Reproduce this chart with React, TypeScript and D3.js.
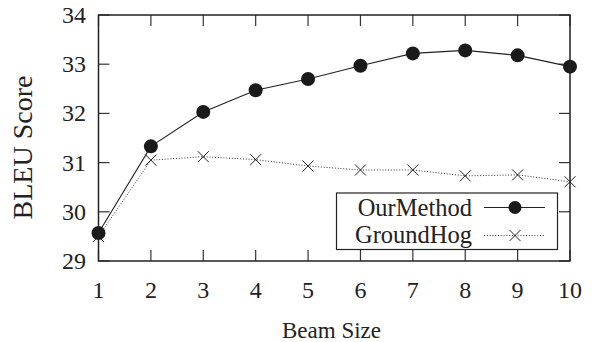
import React from "react";
import * as d3 from "d3";

const beamSizes = [1, 2, 3, 4, 5, 6, 7, 8, 9, 10];
const ourMethod = [29.57, 31.33, 32.03, 32.47, 32.7, 32.97, 33.22, 33.28, 33.18, 32.95];
const groundHog = [29.5, 31.05, 31.12, 31.06, 30.93, 30.85, 30.85, 30.73, 30.75, 30.61];
const yTicks = [29, 30, 31, 32, 33, 34];

const W = 595;
const H = 342;
const margin = { left: 98.5, right: 25, top: 15, bottom: 81 };
const txt = { fontFamily: "Liberation Serif, Times New Roman, serif" };

const App = () => {
  const x = d3.scaleLinear().domain([1, 10]).range([margin.left, W - margin.right]);
  const y = d3.scaleLinear().domain([29, 34]).range([H - margin.bottom, margin.top]);
  const [x0, x1] = x.range();
  const [y0, y1] = y.range();
  const tl = 11; // tick length

  const line = d3
    .line<number>()
    .x((_, i) => x(beamSizes[i]))
    .y((d) => y(d));

  const cross = (cx: number, cy: number, s: number, key?: any) => (
    <path
      key={key}
      d={`M${cx - s},${cy - s}L${cx + s},${cy + s}M${cx - s},${cy + s}L${cx + s},${cy - s}`}
      stroke="#222"
      strokeWidth={1}
      fill="none"
    />
  );

  // legend layout
  const lg = { x: 336.5, y: 193, w: 221, h: 56.5 };
  const rows = [207.5, 235.5];

  return (
    <svg
      width={W}
      height={H}
      style={{ position: "absolute", left: 0, top: 0, background: "#fff" }}
    >
      {/* ticks */}
      {beamSizes.map((b) => (
        <g key={"xt" + b} stroke="#333" strokeWidth={1.2}>
          <line x1={x(b)} x2={x(b)} y1={y0} y2={y0 - tl} />
          <line x1={x(b)} x2={x(b)} y1={y1} y2={y1 + tl} />
        </g>
      ))}
      {yTicks.map((t) => (
        <g key={"yt" + t} stroke="#333" strokeWidth={1.2}>
          <line x1={x0} x2={x0 + tl} y1={y(t)} y2={y(t)} />
          <line x1={x1} x2={x1 - tl} y1={y(t)} y2={y(t)} />
        </g>
      ))}
      {beamSizes.map((b) => (
        <text key={"xl" + b} style={txt} x={x(b)} y={297.5} textAnchor="middle" fontSize={24} fill="#222">
          {b}
        </text>
      ))}
      {yTicks.map((t) => (
        <text key={"yl" + t} style={txt} x={86} y={y(t) + 8} textAnchor="end" fontSize={24} fill="#222">
          {t}
        </text>
      ))}

      {/* series */}
      <path d={line(groundHog) || ""} fill="none" stroke="#333" strokeWidth={1} strokeDasharray="1,1.8" />
      {groundHog.map((v, i) => cross(x(beamSizes[i]), y(v), 5.5, "c" + i))}
      <path d={line(ourMethod) || ""} fill="none" stroke="#222" strokeWidth={1.1} />
      {ourMethod.map((v, i) => (
        <circle key={"o" + i} cx={x(beamSizes[i])} cy={y(v)} r={7} fill="#1a1a1a" />
      ))}

      {/* frame */}
      <rect x={x0} y={y1} width={x1 - x0} height={y0 - y1} fill="none" stroke="#222" strokeWidth={1.5} />

      {/* legend */}
      <rect x={lg.x} y={lg.y} width={lg.w} height={lg.h} fill="#fff" stroke="#222" strokeWidth={1.2} />
      <text style={txt} x={472} y={rows[0] + 8} textAnchor="end" fontSize={24.5} fill="#222">OurMethod</text>
      <line x1={484} x2={545} y1={rows[0]} y2={rows[0]} stroke="#222" strokeWidth={1.1} />
      <circle cx={515} cy={rows[0]} r={6.5} fill="#1a1a1a" />
      <text style={txt} x={472} y={rows[1] + 7.5} textAnchor="end" fontSize={24.5} fill="#222">GroundHog</text>
      <line x1={484} x2={545} y1={rows[1]} y2={rows[1]} stroke="#333" strokeWidth={1} strokeDasharray="1,1.8" />
      {cross(515, rows[1], 5.5)}

      {/* axis titles */}
      <text style={txt} x={331.5} y={338} textAnchor="middle" fontSize={23} fill="#222">Beam Size</text>
      <text
        style={txt}
        transform={`translate(31.5,147.5) rotate(-90)`}
        textAnchor="middle"
        fontSize={28}
        fill="#222"
      >
        BLEU Score
      </text>
    </svg>
  );
};

export default App;
